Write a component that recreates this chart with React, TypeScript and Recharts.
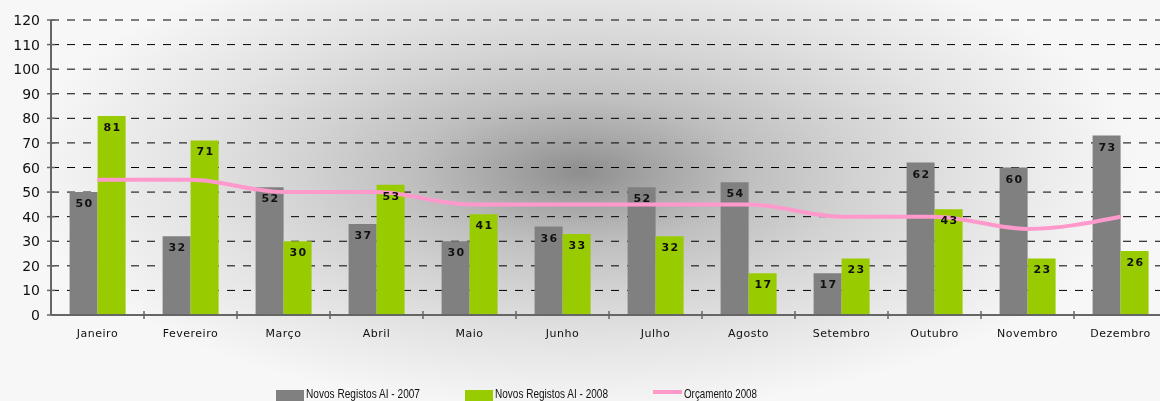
import React from "react";
import {
  Bar,
  CartesianGrid,
  ComposedChart,
  LabelList,
  Legend,
  Line,
  XAxis,
  YAxis
} from "recharts";

const months = [
  "Janeiro",
  "Fevereiro",
  "Março",
  "Abril",
  "Maio",
  "Junho",
  "Julho",
  "Agosto",
  "Setembro",
  "Outubro",
  "Novembro",
  "Dezembro"
];
const registos2007 = [50, 32, 52, 37, 30, 36, 52, 54, 17, 62, 60, 73];
const registos2008 = [81, 71, 30, 53, 41, 33, 32, 17, 23, 43, 23, 26];
const orcamento2008 = [55, 55, 50, 50, 45, 45, 45, 45, 40, 40, 35, 40];
const yTicks = [0, 10, 20, 30, 40, 50, 60, 70, 80, 90, 100, 110, 120];

const rows = months.map((month, i) => ({
  month,
  r2007: registos2007[i],
  r2008: registos2008[i],
  orc: orcamento2008[i]
}));

const GRAY = "#808080";
const GREEN = "#99CC00";
const PINK = "#FF99CC";
const AXIS = "#666666";

function YTick(props: any) {
  const { x, y, payload } = props;
  return (
    <g>
      <line x1={x - 4} x2={x + 4} y1={y} y2={y} stroke={AXIS} strokeWidth={1.5} />
      <text
        x={x - 11}
        y={y}
        dy={5}
        textAnchor="end"
        fontSize={14}
        fontFamily="DejaVu Sans"
        fill="#111"
      >
        {payload.value}
      </text>
    </g>
  );
}

function XTick(props: any) {
  const { x, y, payload } = props;
  const half = payload.offset ?? 0;
  return (
    <g>
      <line x1={x + half} x2={x + half} y1={y - 4} y2={y + 4} stroke={AXIS} strokeWidth={1.5} />
      <text
        x={x}
        y={y + 22}
        textAnchor="middle"
        fontSize={11}
        fontFamily="DejaVu Sans"
        letterSpacing={0.5}
        fill="#111"
      >
        {payload.value}
      </text>
    </g>
  );
}

function BarValue(props: any) {
  const { x, y, width, value } = props;
  return (
    <text
      x={x + width / 2 + 1}
      y={y + 15}
      textAnchor="middle"
      fontSize={11}
      fontWeight="bold"
      fontFamily="DejaVu Sans"
      letterSpacing={1.5}
      fill="#111"
    >
      {value}
    </text>
  );
}

// legend hugs the bottom edge, as in the original
const legendSlots = [
  { mark: 276, text: 306, len: 114 },
  { mark: 465, text: 495, len: 113 },
  { mark: 653, text: 684, len: 73 }
];

function ChartLegend({ payload }: any) {
  const items = payload ?? [];
  return (
    <svg width={1160} height={21} style={{ display: "block" }}>
      {items.map((item: any, i: number) => {
        const slot = legendSlots[i];
        if (!slot) return null;
        return (
          <g key={item.value}>
            {item.type === "line" ? (
              <line x1={slot.mark} x2={slot.mark + 29} y1={12} y2={12} stroke={item.color} strokeWidth={4} />
            ) : (
              <rect x={slot.mark} y={10} width={28} height={11} fill={item.color} />
            )}
            <text
              x={slot.text}
              y={18}
              fontSize={13}
              fontFamily="Liberation Sans"
              fill="#111"
              textLength={slot.len}
              lengthAdjust="spacingAndGlyphs"
            >
              {item.value}
            </text>
          </g>
        );
      })}
    </svg>
  );
}

export default function App() {
  return (
    <div
      style={{
        position: "fixed",
        left: 0,
        top: 0,
        width: 1160,
        height: 401,
        overflow: "hidden",
        background:
          "radial-gradient(ellipse 560px 240px at 580px 172px, #8e8e8e 0%, #a6a6a6 14%, #bfbfbf 30%, #d3d3d3 50%, #e3e3e3 70%, #f7f7f7 100%)"
      }}
    >
      <ComposedChart
        width={1175}
        height={401}
        data={rows}
        margin={{ top: 20, right: 8, bottom: 56, left: 0 }}
        barCategoryGap="20%"
        barGap={0}
      >
        <CartesianGrid vertical={false} stroke="#000" strokeDasharray="8 8" />
        <XAxis
          dataKey="month"
          height={30}
          tickSize={0}
          tickMargin={0}
          tickLine={false}
          axisLine={{ stroke: AXIS, strokeWidth: 2 }}
          tick={<XTick />}
          interval={0}
        />
        <YAxis
          width={51}
          domain={[0, 120]}
          ticks={yTicks}
          tickSize={0}
          tickMargin={0}
          tickLine={false}
          axisLine={{ stroke: AXIS, strokeWidth: 2 }}
          tick={<YTick />}
          interval={0}
        />
        <Legend
          layout="horizontal"
          verticalAlign="middle"
          align="center"
          wrapperStyle={{ top: 380, left: 0, width: 1160, height: 21 }}
          content={<ChartLegend />}
        />
        <Bar dataKey="r2007" name="Novos Registos AI - 2007" fill={GRAY} isAnimationActive={false} legendType="rect">
          <LabelList dataKey="r2007" content={<BarValue />} />
        </Bar>
        <Bar dataKey="r2008" name="Novos Registos AI - 2008" fill={GREEN} isAnimationActive={false} legendType="rect">
          <LabelList dataKey="r2008" content={<BarValue />} />
        </Bar>
        <Line
          dataKey="orc"
          name="Orçamento 2008"
          type="monotone"
          stroke={PINK}
          strokeWidth={4}
          dot={false}
          legendType="line"
          isAnimationActive={false}
        />
      </ComposedChart>
    </div>
  );
}
